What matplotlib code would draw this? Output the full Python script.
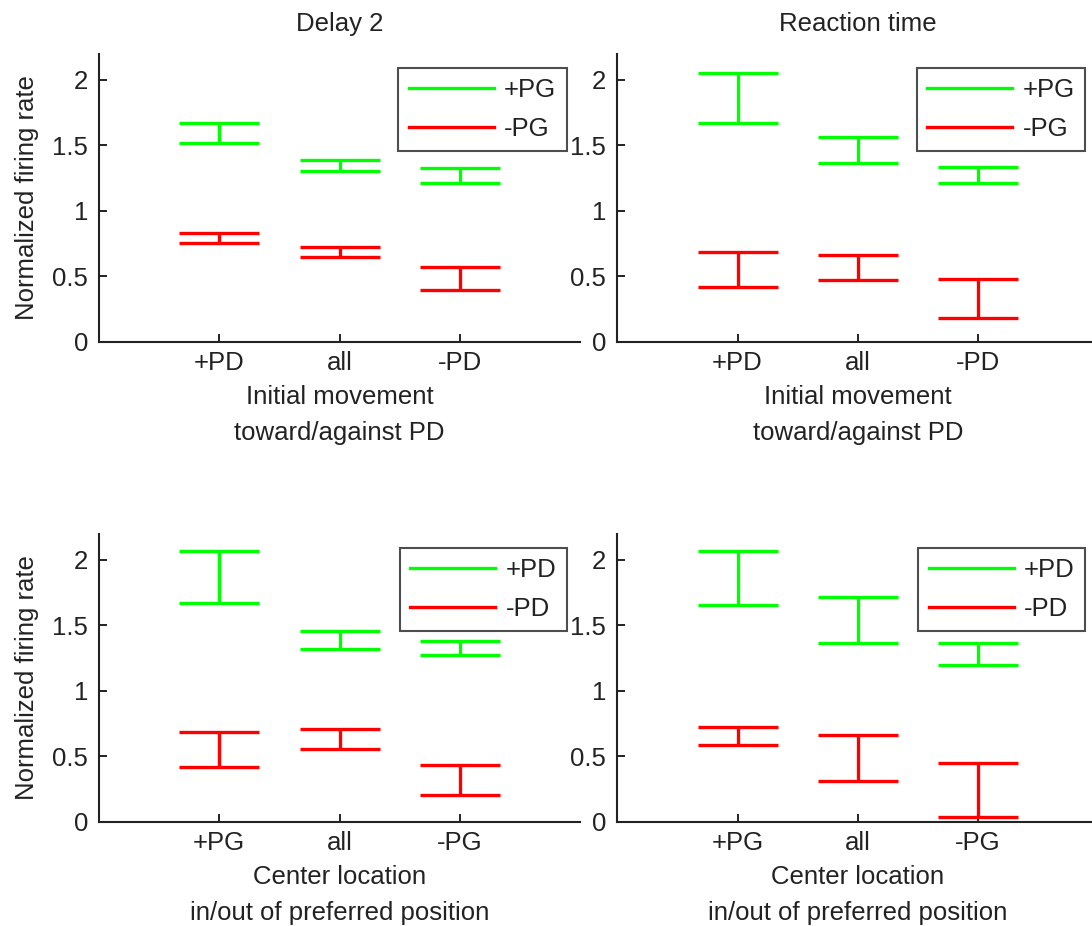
import matplotlib
matplotlib.use("Agg")
import matplotlib.pyplot as plt
from matplotlib.lines import Line2D
import numpy as np

plt.rcParams['font.family'] = ['Liberation Sans', 'DejaVu Sans']

# ---- data (lower / upper ends of each error bar) ----
x_pos = [1, 2, 3]
labels_move = ['+PD', 'all', '-PD']
labels_center = ['+PG', 'all', '-PG']

delay2_move_pos_lo = [1.517, 1.305, 1.214]
delay2_move_pos_hi = [1.672, 1.384, 1.323]
delay2_move_neg_lo = [0.756, 0.646, 0.392]
delay2_move_neg_hi = [0.832, 0.725, 0.570]

rt_move_pos_lo = [1.672, 1.364, 1.214]
rt_move_pos_hi = [2.051, 1.562, 1.333]
rt_move_neg_lo = [0.417, 0.468, 0.178]
rt_move_neg_hi = [0.682, 0.664, 0.478]

delay2_center_pos_lo = [1.672, 1.321, 1.270]
delay2_center_pos_hi = [2.069, 1.458, 1.382]
delay2_center_neg_lo = [0.417, 0.555, 0.204]
delay2_center_neg_hi = [0.682, 0.707, 0.435]

rt_center_pos_lo = [1.654, 1.364, 1.196]
rt_center_pos_hi = [2.069, 1.718, 1.364]
rt_center_neg_lo = [0.585, 0.313, 0.038]
rt_center_neg_hi = [0.725, 0.664, 0.450]

yticks = [0, 0.5, 1, 1.5, 2]
ytick_labels = ['0', '0.5', '1', '1.5', '2']

GREEN = (0, 1, 0)
RED = (1, 0, 0)
FS = 18.5
TXT = '#222222'

fig = plt.figure(figsize=(10.92, 9.26), dpi=100)

W = 0.4405
H = 0.3112
rects = [
    (0.0907, 0.631, W, H),
    (0.5653, 0.631, W, H),
    (0.0907, 0.1126, W, H),
    (0.5653, 0.1126, W, H),
]

panels = [
    dict(pos=(delay2_move_pos_lo, delay2_move_pos_hi), neg=(delay2_move_neg_lo, delay2_move_neg_hi),
         xt=labels_move, title='Delay 2', xlabel='Initial movement\ntoward/against PD',
         leg=['+PG', '-PG'], ylabel=True),
    dict(pos=(rt_move_pos_lo, rt_move_pos_hi), neg=(rt_move_neg_lo, rt_move_neg_hi),
         xt=labels_move, title='Reaction time', xlabel='Initial movement\ntoward/against PD',
         leg=['+PG', '-PG'], ylabel=False),
    dict(pos=(delay2_center_pos_lo, delay2_center_pos_hi), neg=(delay2_center_neg_lo, delay2_center_neg_hi),
         xt=labels_center, title=None, xlabel='Center location\nin/out of preferred position',
         leg=['+PD', '-PD'], ylabel=True),
    dict(pos=(rt_center_pos_lo, rt_center_pos_hi), neg=(rt_center_neg_lo, rt_center_neg_hi),
         xt=labels_center, title=None, xlabel='Center location\nin/out of preferred position',
         leg=['+PD', '-PD'], ylabel=False),
]

for rect, p in zip(rects, panels):
    ax = fig.add_axes(rect)
    for (lo, hi), col in ((p['pos'], GREEN), (p['neg'], RED)):
        lo = np.array(lo)
        hi = np.array(hi)
        mid = (lo + hi) / 2
        err = (hi - lo) / 2
        ax.errorbar(x_pos, mid, yerr=err, fmt='none', ecolor=col,
                    elinewidth=2.4, capsize=29, capthick=2.4)
    ax.set_xlim(0, 4)
    ax.set_ylim(0, 2.2)
    ax.set_xticks(x_pos)
    ax.set_xticklabels(p['xt'], fontsize=FS)
    ax.set_yticks(yticks)
    ax.set_yticklabels(ytick_labels, fontsize=FS)
    ax.tick_params(direction='in', length=6, width=1.4, color=TXT, labelcolor=TXT)
    ax.tick_params(axis='x', pad=7)
    ax.tick_params(axis='y', pad=8)
    for s in ('top', 'right'):
        ax.spines[s].set_visible(False)
    for s in ('left', 'bottom'):
        ax.spines[s].set_linewidth(1.5)
        ax.spines[s].set_color(TXT)
    ax.set_xlabel(p['xlabel'], fontsize=FS, color=TXT, labelpad=7, linespacing=1.6)
    if p['ylabel']:
        ax.set_ylabel('Normalized firing rate', fontsize=FS, color=TXT, labelpad=9.5)
    if p['title']:
        ax.set_title(p['title'], fontsize=FS, color=TXT, pad=16)
    handles = [Line2D([], [], color=GREEN, lw=2.4), Line2D([], [], color=RED, lw=2.4)]
    leg = ax.legend(handles, p['leg'], loc='upper right', bbox_to_anchor=(0.973, 0.951),
                    borderaxespad=0, fontsize=FS, frameon=True, fancybox=False,
                    handlelength=3.3, handletextpad=0.4, labelspacing=0.55,
                    borderpad=0.42)
    fr = leg.get_frame()
    fr.set_edgecolor(TXT)
    fr.set_linewidth(1.5)
    for t in leg.get_texts():
        t.set_color(TXT)

fig.savefig('out.png', dpi=100, facecolor='white')
